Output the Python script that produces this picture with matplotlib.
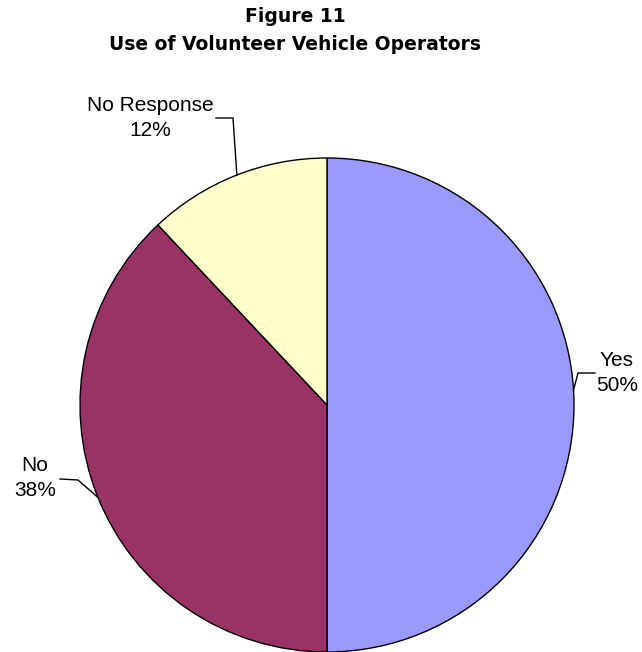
import numpy as np
import matplotlib
matplotlib.use("Agg")
import matplotlib.pyplot as plt

categories = ["Yes", "No", "No Response"]
shares = [50, 38, 12]
colors = ["#9999FF", "#993366", "#FFFFCC"]

# label centre (pixels), leader line start, bend, and angle where it meets the pie
label_pos = {"Yes": (617, 373), "No": (35, 478), "No Response": (150, 118)}
line_pts = {
    "Yes": [(595, 373), (578, 373)],
    "No": [(60, 479), (78, 480)],
    "No Response": [(216, 118), (233, 118)],
}
edge_angle = {"Yes": 3.5, "No": 202.0, "No Response": 111.4}

W, H = 642, 652
plt.rcParams["font.family"] = ["Liberation Sans", "DejaVu Sans"]
fig = plt.figure(figsize=(W / 100, H / 100), dpi=100)
ax = fig.add_axes([0, 0, 1, 1])

cx, cy, r = 327, 405, 247
wedges, _ = ax.pie(shares, colors=colors, startangle=90, counterclock=False,
                   center=(cx, -cy), radius=r,
                   wedgeprops=dict(edgecolor="black", linewidth=1.0))

ax.set_xlim(0, W)
ax.set_ylim(-H, 0)
ax.set_aspect("equal")
ax.axis("off")

for name, pct in zip(categories, shares):
    lx, ly = label_pos[name]
    ax.text(lx, -ly, f"{name}\n{pct}%", ha="center", va="center",
            fontsize=15, linespacing=1.4, color="black")
    a = np.deg2rad(edge_angle[name])
    pts = line_pts[name] + [(cx + r * np.cos(a), cy - r * np.sin(a))]
    xs = [p[0] for p in pts]
    ys = [-p[1] for p in pts]
    ax.plot(xs, ys, color="black", lw=1.0)

title_x = 295
fig.text(title_x / W, 1 - 17 / H, "Figure 11", ha="center", va="center",
         fontsize=13.5, fontweight="bold", family="DejaVu Sans")
fig.text(title_x / W, 1 - 45 / H, "Use of Volunteer Vehicle Operators",
         ha="center", va="center", fontsize=13.5, fontweight="bold",
         family="DejaVu Sans")

fig.savefig("out.png", dpi=100, facecolor="white")
